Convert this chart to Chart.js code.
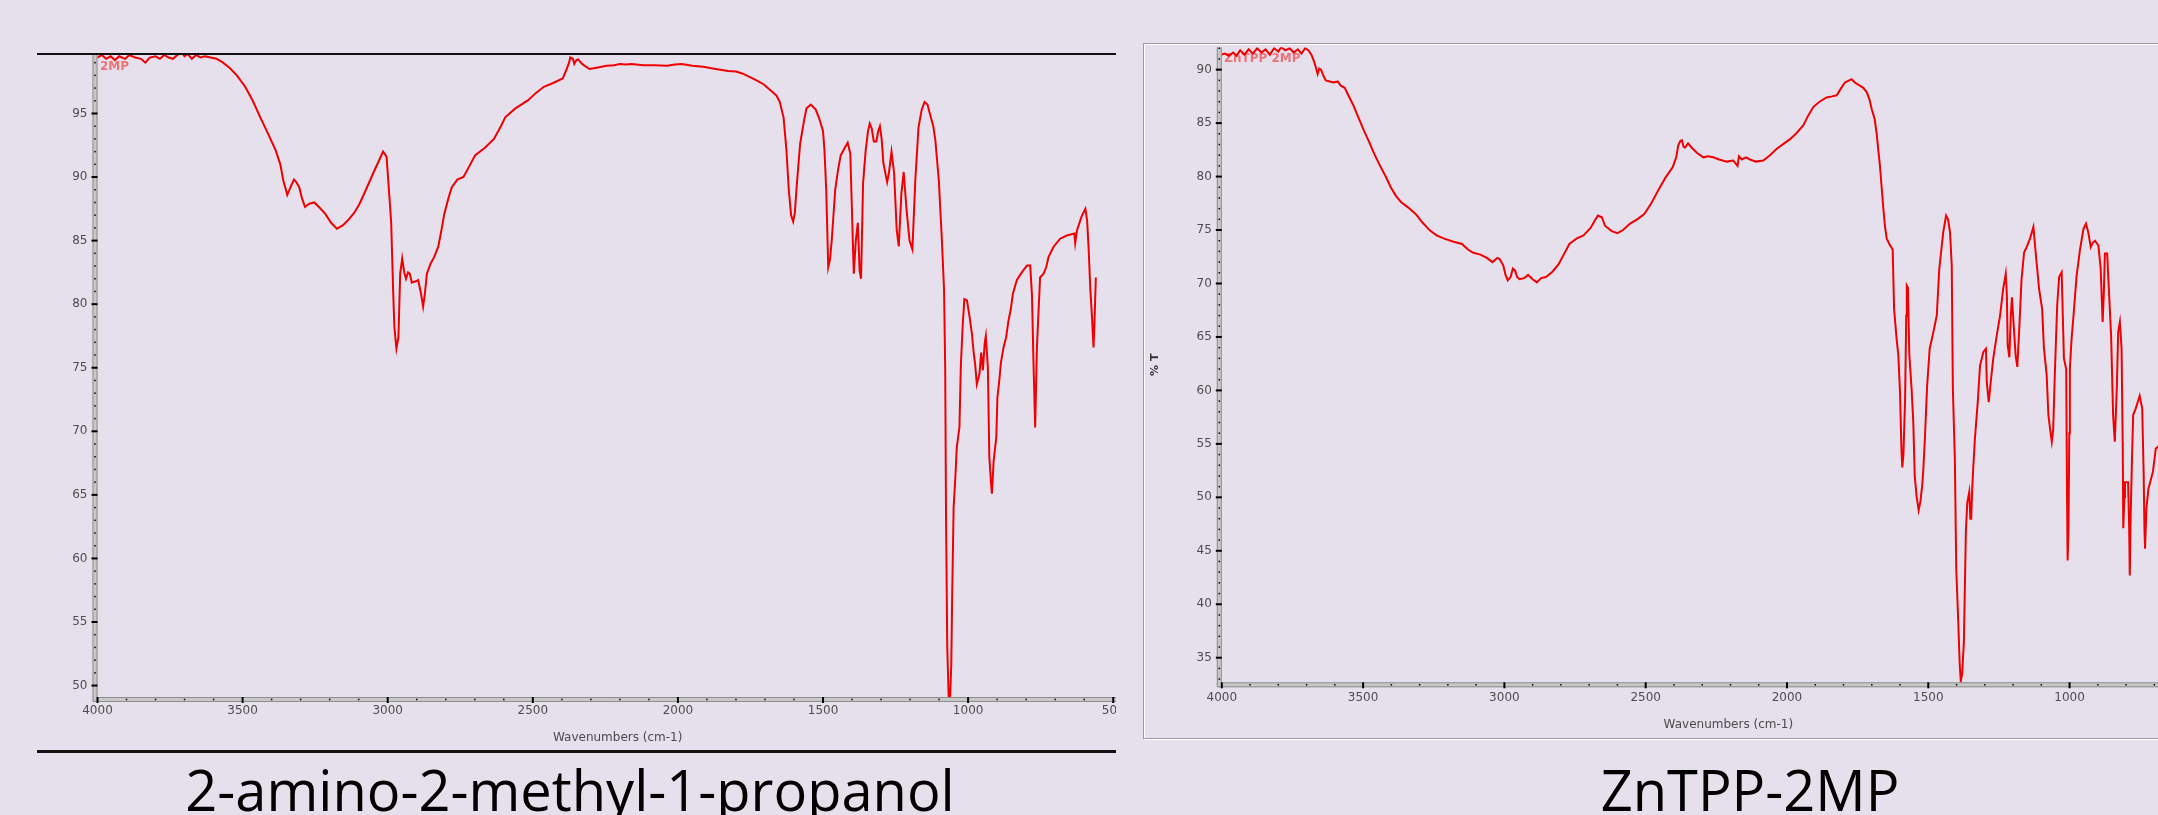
<!DOCTYPE html>
<html lang="es">
<head>
<meta charset="utf-8">
<title>Espectros IR</title>
<script src="https://cdn.jsdelivr.net/npm/chart.js@4/dist/chart.umd.min.js"></script>
<style>
    html, body { margin: 0; padding: 0; }
    body {
        position: relative;
        width: 2158px;
        height: 815px;
        overflow: hidden;
        background: #e6e0ec;
        font-family: "Open Sans", sans-serif;
    }
    .caja { position: absolute; overflow: hidden; }
    #cajaIzq { left: 0; top: 0; width: 1116px; height: 760px; }
    #cajaDer { left: 1143px; top: 30px; width: 1015px; height: 708px; }
    .caja canvas { position: absolute; left: 0; top: 0; }
    .raya { position: absolute; left: 37px; width: 1079px; height: 2.5px; background: #111; }
    .marco {
        position: absolute;
        left: 1143px;
        top: 43px;
        width: 1100px;
        height: 696px;
        box-sizing: border-box;
        border: 1px solid #9c9c9c;
        box-shadow: 1px 1px 0 #fff, inset 1px 1px 0 #fff;
    }
    .titulo {
        position: absolute;
        font-size: 56px;
        line-height: 56px;
        color: #000;
        white-space: nowrap;
        transform: translateX(-50%);
    }
</style>
</head>
<body>
<div class="raya" style="top: 52.5px"></div>
<div class="caja" id="cajaIzq"><canvas id="espectroIzq" width="1160" height="760"></canvas></div>
<div class="raya" style="top: 750px"></div>
<div class="titulo" style="left: 570px; top: 761px">2-amino-2-methyl-1-propanol</div>

<div class="marco"></div>
<div class="caja" id="cajaDer"><canvas id="espectroDer" width="1121" height="708"></canvas></div>
<div class="titulo" style="left: 1750px; top: 761px">ZnTPP-2MP</div>

<script>
// marcas de los ejes
const marcasX = [4000, 3500, 3000, 2500, 2000, 1500, 1000, 500];
const marcasYIzq = [50, 55, 60, 65, 70, 75, 80, 85, 90, 95];
const marcasYDer = [35, 40, 45, 50, 55, 60, 65, 70, 75, 80, 85, 90];

// 2-amino-2-metil-1-propanol: número de onda (cm-1) y %T
const ondaIzq = [
    4000, 3985, 3970, 3955, 3940, 3925, 3905, 3890, 3870, 3850, 3835, 3820, 3800, 3785, 3770, 3755,
    3740, 3725, 3710, 3700, 3690, 3675, 3660, 3645, 3630, 3610, 3590, 3571, 3545, 3520, 3491, 3465,
    3439, 3410, 3386, 3370, 3360, 3346, 3335, 3323, 3315, 3305, 3295, 3285, 3270, 3253, 3235, 3215,
    3195, 3175, 3155, 3137, 3115, 3097, 3075, 3050, 3030, 3016, 3004, 2994, 2988, 2981, 2977, 2970,
    2963, 2957, 2950, 2943, 2937, 2930, 2924, 2917, 2911, 2903, 2895, 2885, 2878, 2872, 2865, 2852,
    2840, 2826, 2815, 2805, 2790, 2779, 2760, 2739, 2720, 2699, 2665, 2634, 2610, 2595, 2560, 2516,
    2490, 2462, 2430, 2397, 2385, 2375, 2371, 2362, 2357, 2350, 2344, 2330, 2318, 2305, 2280, 2246,
    2220, 2200, 2180, 2160, 2120, 2080, 2037, 2010, 1987, 1950, 1913, 1870, 1827, 1800, 1778, 1755,
    1729, 1705, 1680, 1660, 1649, 1636, 1626, 1618, 1610, 1603, 1597, 1591, 1579, 1565, 1557, 1542,
    1525, 1513, 1500, 1495, 1489, 1482, 1476, 1470, 1458, 1448, 1439, 1425, 1415, 1406, 1399, 1394,
    1387, 1380, 1374, 1369, 1362, 1353, 1345, 1339, 1332, 1325, 1316, 1310, 1304, 1298, 1292, 1279,
    1273, 1264, 1255, 1246, 1239, 1230, 1222, 1212, 1202, 1192, 1182, 1171, 1160, 1150, 1140, 1132,
    1120, 1113, 1101, 1091, 1083, 1079, 1076, 1072, 1067, 1062, 1058, 1055, 1050, 1044, 1039, 1030,
    1025, 1019, 1013, 1004, 995, 987, 981, 976, 970, 961, 955, 949, 943, 939, 932, 927,
    921, 918, 912, 903, 899, 893, 887, 878, 869, 861, 853, 846, 832, 815, 797, 786,
    780, 775, 769, 763, 757, 752, 740, 731, 723, 706, 683, 660, 634, 631, 625, 609,
    596, 590, 585, 579, 573, 568, 565, 560
];
const transIzq = [
    99.4, 99.6, 99.3, 99.5, 99.2, 99.5, 99.3, 99.6, 99.4, 99.3, 99.0, 99.4, 99.5, 99.3, 99.6, 99.4,
    99.3, 99.6, 99.8, 99.5, 99.7, 99.3, 99.6, 99.4, 99.5, 99.4, 99.3, 99.06, 98.6, 98.0, 97.1, 96.0,
    94.7, 93.3, 92.1, 91.0, 89.75, 88.6, 89.2, 89.8, 89.6, 89.2, 88.3, 87.65, 87.9, 88.0, 87.6, 87.1,
    86.4, 85.94, 86.2, 86.6, 87.2, 87.9, 89.0, 90.3, 91.3, 92.0, 91.6, 88.4, 86.4, 80.85, 78.2, 76.5,
    77.4, 82.4, 83.6, 82.5, 82.0, 82.5, 82.4, 81.7, 81.75, 81.8, 81.9, 80.8, 79.8, 80.8, 82.4, 83.2,
    83.7, 84.5, 85.8, 87.1, 88.4, 89.2, 89.8, 90.0, 90.8, 91.7, 92.3, 93.0, 94.0, 94.7, 95.4, 96.05,
    96.6, 97.1, 97.4, 97.75, 98.4, 99.0, 99.4, 99.3, 98.9, 99.2, 99.25, 98.9, 98.7, 98.5, 98.6, 98.75,
    98.8, 98.9, 98.85, 98.9, 98.8, 98.8, 98.75, 98.85, 98.9, 98.75, 98.67, 98.5, 98.35, 98.3, 98.15, 97.9,
    97.6, 97.3, 96.8, 96.4, 95.9, 94.7, 92.1, 89.0, 87.0, 86.5, 87.2, 89.2, 92.6, 94.5, 95.4, 95.7,
    95.3, 94.6, 93.6, 92.1, 89.0, 82.9, 83.5, 85.0, 89.0, 90.6, 91.7, 92.3, 92.7, 91.85, 86.3, 82.4,
    85.0, 86.4, 82.65, 82.0, 89.5, 92.1, 93.6, 94.2, 93.8, 92.8, 92.8, 93.6, 94.0, 93.0, 91.1, 89.6,
    90.3, 92.0, 90.3, 85.8, 84.55, 88.7, 90.4, 87.4, 85.0, 84.3, 89.75, 93.9, 95.3, 95.9, 95.7, 95.0,
    94.0, 92.9, 89.75, 85.3, 81.2, 74.9, 63.0, 53.1, 49.1, 49.1, 51.7, 57.0, 64.0, 66.4, 68.75, 70.3,
    75.2, 78.2, 80.4, 80.3, 79.0, 77.7, 76.2, 75.3, 73.7, 74.5, 76.2, 74.8, 76.9, 77.5, 75.0, 68.0,
    65.9, 65.1, 67.7, 69.5, 72.7, 73.9, 75.4, 76.6, 77.4, 78.7, 79.6, 80.8, 81.9, 82.5, 83.05, 83.05,
    80.7, 75.6, 70.3, 76.6, 79.6, 82.1, 82.4, 82.9, 83.7, 84.5, 85.15, 85.4, 85.55, 84.8, 85.8, 86.9,
    87.5, 86.6, 84.5, 81.2, 78.9, 76.6, 78.2, 82.1
];

// ZnTPP-2MP: número de onda (cm-1) y %T
const ondaDer = [
    4000, 3990, 3975, 3960, 3948, 3935, 3920, 3905, 3890, 3875, 3860, 3845, 3830, 3815, 3800, 3790,
    3775, 3760, 3745, 3731, 3718, 3705, 3693, 3683, 3674, 3667, 3661, 3655, 3649, 3640, 3632, 3618,
    3604, 3590, 3579, 3565, 3554, 3535, 3516, 3497, 3478, 3460, 3440, 3420, 3402, 3384, 3365, 3340,
    3314, 3290, 3263, 3240, 3213, 3180, 3150, 3130, 3112, 3085, 3062, 3042, 3025, 3017, 3004, 2996,
    2988, 2978, 2970, 2962, 2955, 2947, 2930, 2916, 2900, 2885, 2870, 2853, 2830, 2808, 2790, 2770,
    2745, 2720, 2695, 2680, 2669, 2655, 2644, 2620, 2600, 2580, 2555, 2530, 2505, 2480, 2454, 2430,
    2404, 2392, 2385, 2378, 2372, 2366, 2361, 2350, 2337, 2318, 2296, 2280, 2261, 2240, 2213, 2190,
    2175, 2170, 2160, 2145, 2131, 2110, 2084, 2060, 2036, 2010, 1989, 1965, 1942, 1925, 1907, 1885,
    1860, 1840, 1824, 1810, 1795, 1780, 1771, 1760, 1742, 1730, 1718, 1708, 1700, 1690, 1683, 1677,
    1671, 1665, 1659, 1653, 1647, 1636, 1626, 1621, 1612, 1606, 1600, 1595, 1592, 1588, 1582, 1578,
    1576, 1572, 1567, 1559, 1553, 1548, 1541, 1534, 1528, 1522, 1518, 1512, 1504, 1495, 1482, 1470,
    1461, 1447, 1437, 1430, 1423, 1417, 1413, 1406, 1401, 1394, 1389, 1385, 1380, 1374, 1367, 1362,
    1355, 1351, 1348, 1345, 1341, 1335, 1325, 1317, 1305, 1296, 1293, 1286, 1279, 1270, 1258, 1246,
    1235, 1226, 1222, 1219, 1213, 1208, 1204, 1197, 1191, 1185, 1178, 1170, 1161, 1152, 1140, 1128,
    1120, 1108, 1097, 1091, 1081, 1075, 1069, 1063, 1058, 1052, 1044, 1037, 1028, 1024, 1020, 1012,
    1009, 1007, 1004, 1001, 999, 993, 987, 975, 963, 951, 942, 934, 925, 918, 910, 898,
    890, 883, 879, 875, 867, 860, 853, 846, 840, 833, 828, 822, 816, 812, 810, 806,
    804, 793, 789, 787, 784, 780, 775, 766, 752, 743, 738, 735, 733, 728, 721, 705,
    695, 685, 670, 655
];
const transDer = [
    91.4, 91.5, 91.3, 91.6, 91.3, 91.8, 91.4, 91.9, 91.5, 92.0, 91.6, 91.9, 91.4, 92.0, 91.7, 92.1,
    91.8, 92.0, 91.6, 91.9, 91.5, 92.0, 91.8, 91.4, 90.8, 90.2, 89.6, 90.1, 90.0, 89.4, 89.0, 88.9,
    88.8, 88.9, 88.5, 88.3, 87.7, 86.7, 85.5, 84.3, 83.2, 82.1, 81.0, 80.0, 79.0, 78.2, 77.6, 77.1,
    76.5, 75.7, 74.95, 74.5, 74.2, 73.9, 73.7, 73.2, 72.9, 72.7, 72.4, 72.0, 72.4, 72.3, 71.7, 70.8,
    70.3, 70.6, 71.4, 71.2, 70.6, 70.4, 70.5, 70.8, 70.4, 70.1, 70.5, 70.6, 71.1, 71.8, 72.7, 73.7,
    74.2, 74.5, 75.2, 75.9, 76.35, 76.2, 75.4, 74.9, 74.7, 75.0, 75.6, 76.0, 76.5, 77.5, 78.8, 79.9,
    80.9, 81.8, 82.9, 83.3, 83.4, 82.8, 82.7, 83.1, 82.7, 82.2, 81.8, 81.9, 81.8, 81.6, 81.4, 81.5,
    81.0, 81.9, 81.6, 81.8, 81.6, 81.4, 81.5, 82.0, 82.6, 83.1, 83.5, 84.1, 84.8, 85.7, 86.5, 87.0,
    87.4, 87.5, 87.6, 88.2, 88.8, 89.0, 89.1, 88.8, 88.5, 88.3, 87.9, 87.2, 86.3, 85.4, 84.1, 82.5,
    81.0, 79.0, 77.0, 75.3, 74.2, 73.6, 73.2, 67.6, 64.8, 63.3, 59.8, 54.5, 52.8, 54.0, 59.2, 67.0,
    69.8, 69.6, 63.3, 60.1, 57.0, 52.0, 50.0, 48.8, 49.6, 51.0, 52.4, 55.5, 60.5, 63.9, 65.45, 67.0,
    71.4, 74.8, 76.35, 76.0, 74.8, 71.7, 60.1, 53.6, 43.3, 38.4, 34.5, 32.8, 33.5, 36.5, 46.8, 49.5,
    50.5, 48.0, 48.0, 50.5, 52.7, 55.5, 58.9, 62.3, 63.6, 63.9, 60.8, 58.9, 60.8, 63.0, 65.1, 67.0,
    69.5, 70.9, 69.0, 64.2, 63.1, 67.0, 68.7, 65.8, 63.3, 62.2, 65.8, 70.4, 72.9, 73.4, 74.2, 75.3,
    72.9, 69.5, 67.6, 64.05, 61.4, 57.7, 56.4, 55.2, 56.3, 61.7, 67.9, 70.6, 71.05, 67.0, 63.0, 62.0,
    50.0, 44.1, 46.8, 56.0, 62.0, 64.8, 66.7, 70.75, 73.2, 75.1, 75.6, 74.8, 73.4, 73.8, 74.0, 73.55,
    71.4, 66.4, 69.0, 72.8, 72.8, 68.9, 65.1, 57.7, 55.2, 60.1, 65.45, 66.4, 63.9, 55.0, 47.1, 50.0,
    51.4, 51.4, 47.0, 42.7, 48.0, 52.7, 57.7, 58.3, 59.5, 58.3, 52.4, 47.0, 45.2, 49.0, 50.8, 52.4,
    54.55, 54.8, 55.5, 56.0
];

const fuenteEje = { family: "DejaVu Sans", size: 12 };

// barras grises de los ejes, marcas menores y rótulo de la muestra
const ejes = {
    id: "ejes",
    beforeDatasetsDraw(chart, args, opts) {
        const { ctx, chartArea: area, scales: { x, y } } = chart;
        const g = opts.grosor;
        ctx.save();

        ctx.fillStyle = "#c8c8c8";
        ctx.fillRect(area.left - g, area.top, g, area.bottom - area.top + g);
        ctx.fillRect(area.left - g, area.bottom, area.right - area.left + g, g);
        ctx.strokeStyle = "#8e8e8e";
        ctx.lineWidth = 1;
        ctx.beginPath();
        ctx.moveTo(area.left - g + 0.5, area.top);
        ctx.lineTo(area.left - g + 0.5, area.bottom + g - 0.5);
        ctx.lineTo(area.right, area.bottom + g - 0.5);
        ctx.moveTo(area.left - 0.5, area.top);
        ctx.lineTo(area.left - 0.5, area.bottom + 0.5);
        ctx.lineTo(area.right, area.bottom + 0.5);
        ctx.stroke();

        ctx.fillStyle = "#000";
        for (let v = Math.ceil(y.min); v <= Math.floor(y.max); v++) {
            const py = y.getPixelForValue(v);
            if (v % 5 === 0) ctx.fillRect(area.left - g - 1, py - 1, g + 1, 2);
            else ctx.fillRect(area.left - g / 2 - 0.75, py - 0.75, 1.5, 1.5);
        }
        for (let w = 500; w <= x.max; w += 100) {
            if (w < x.min) continue;
            const px = x.getPixelForValue(w);
            if (w % 500 === 0) ctx.fillRect(px - 1, area.bottom, 2, g + 1);
            else ctx.fillRect(px - 0.75, area.bottom + g / 2 - 0.75, 1.5, 1.5);
        }

        ctx.font = "bold 12px 'DejaVu Sans'";
        ctx.fillStyle = "rgba(238, 70, 70, 0.7)";
        ctx.textBaseline = "alphabetic";
        ctx.fillText(opts.rotulo, area.left + 2.5, area.top + 14.5);
        ctx.restore();
    }
};

function crearEspectro(lienzo, onda, trans, conf) {
    return new Chart(lienzo, {
        type: "line",
        data: {
            datasets: [{
                data: onda.map((w, i) => ({ x: w, y: trans[i] })),
                borderColor: "#f00000",
                borderWidth: 2,
                pointRadius: 0,
                tension: 0
            }]
        },
        options: {
            responsive: false,
            animation: false,
            layout: { padding: conf.relleno },
            plugins: {
                legend: { display: false },
                tooltip: { enabled: false },
                ejes: { grosor: 5, rotulo: conf.rotulo }
            },
            scales: {
                x: {
                    type: "linear",
                    reverse: true,
                    min: 415,
                    max: 4000,
                    grid: { display: false, drawTicks: false },
                    border: { display: false },
                    afterBuildTicks: (s) => { s.ticks = marcasX.map((v) => ({ value: v })); },
                    afterFit: (s) => { s.height = conf.altoX; },
                    ticks: {
                        font: fuenteEje,
                        color: "#4d4d4d",
                        padding: conf.sepX,
                        maxRotation: 0,
                        autoSkip: false,
                        callback: (v) => String(v)
                    },
                    title: {
                        display: true,
                        text: "Wavenumbers (cm-1)",
                        font: fuenteEje,
                        color: "#4a4a4a",
                        padding: { top: 0, bottom: conf.sepTituloX }
                    }
                },
                y: {
                    min: conf.minY,
                    max: conf.maxY,
                    grid: { display: false, drawTicks: false },
                    border: { display: false },
                    afterBuildTicks: (s) => { s.ticks = conf.marcasY.map((v) => ({ value: v })); },
                    afterFit: (s) => { s.width = conf.anchoY; },
                    ticks: {
                        font: fuenteEje,
                        color: "#4d4d4d",
                        padding: 10,
                        autoSkip: false,
                        callback: (v) => String(v)
                    },
                    title: conf.tituloY
                }
            }
        },
        plugins: [ejes]
    });
}

crearEspectro(document.querySelector("#espectroIzq"), ondaIzq, transIzq, {
    rotulo: "2MP",
    relleno: { left: 0, top: 55, right: 22.1, bottom: 0 },
    anchoY: 97.5,
    altoX: 63,
    sepX: 6.8,
    sepTituloX: 14.8,
    minY: 49.1,
    maxY: 99.6,
    marcasY: marcasYIzq,
    tituloY: { display: false }
});

crearEspectro(document.querySelector("#espectroDer"), ondaDer, transDer, {
    rotulo: "ZnTPP 2MP",
    relleno: { left: 0, top: 15, right: 29.1, bottom: 0 },
    anchoY: 78.8,
    altoX: 55.7,
    sepX: 8.8,
    sepTituloX: 5.8,
    minY: 32.7,
    maxY: 92.1,
    marcasY: marcasYDer,
    tituloY: {
        display: true,
        text: "% T",
        font: { family: "DejaVu Sans", size: 11, weight: "bold" },
        color: "#333",
        padding: { top: 5.4, bottom: 0 }
    }
});
</script>
</body>
</html>
